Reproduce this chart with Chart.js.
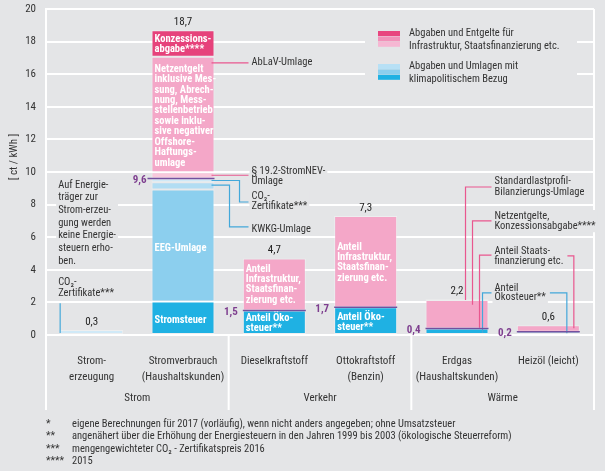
<!DOCTYPE html>
<html lang="de">
<head>
<meta charset="utf-8">
<title>Energiesteuern, Abgaben und Umlagen</title>
<script src="https://cdn.jsdelivr.net/npm/chart.js@4.4.1/dist/chart.umd.min.js"></script>
<style>
  html, body { margin: 0; padding: 0; background: #e4e5e7; }
  #chart { display: block; }
</style>
</head>
<body>
<canvas id="chart" width="605" height="471"></canvas>
<script>
const FONT = "'Liberation Sans Narrow', 'Arial Narrow', 'Roboto Condensed', Roboto, sans-serif";
const TEXT = '#333333';
const PURPLE = '#7e3f8f';
const BG = '#e4e5e7';
const PINK_LINE = '#e9578f';
const BLUE_LINE = '#43a8da';

// Kategorien und Gruppen der x-Achse
const categories = [['Strom-', 'erzeugung'], ['Stromverbrauch', '(Haushaltskunden)'], ['Dieselkraftstoff'],
    ['Ottokraftstoff', '(Benzin)'], ['Erdgas', '(Haushaltskunden)'], ['Heizöl (leicht)']];
const groups = ['Strom', 'Verkehr', 'Wärme'];
const Y_MAX = 20;
const Y_STEP = 2;

// Werte in ct/kWh, von unten nach oben gestapelt
const steuer = [null, 2.05, 1.5, 1.7, 0.4, 0.2];
const eegUmlage = [null, 6.88, null, null, null, null];
const kwkgUmlage = [null, 0.44, null, null, null, null];
const co2Zertifikate = [0.3, 0.23, null, null, null, null];
const stromNevUmlage = [null, 0.39, null, null, null, null];
const infrastruktur = [null, 7.08, 3.2, 5.6, 1.74, 0.4];
const konzession = [null, 1.63, null, null, 0.06, null];
const totals = [0.3, 18.7, 4.7, 7.3, 2.2, 0.6];
const klimaTotals = [null, 9.6, 1.5, 1.7, 0.4, 0.2];

const legendLabels = [['Abgaben und Entgelte für', 'Infrastruktur, Staatsfinanzierung etc.'],
    ['Abgaben und Umlagen mit', 'klimapolitischem Bezug']];
const legendColors = [['#e8457f', '#f291b9', '#f6b7d3'], ['#b7e0f5', '#8ccfee', '#1fb1e3']];

const footnotes = [
    ['*', 'eigene Berechnungen für 2017 (vorläufig), wenn nicht anders angegeben; ohne Umsatzsteuer'],
    ['**', 'angenähert über die Erhöhung der Energiesteuern in den Jahren 1999 bis 2003 (ökologische Steuerreform)'],
    ['***', 'mengengewichteter CO₂ - Zertifikatspreis 2016'],
    ['****', '2015']
];

function segment(label, data, color) {
    return {
        label: label,
        data: data,
        backgroundColor: color,
        borderColor: 'rgba(255,255,255,0.35)',
        borderWidth: 1,
        borderSkipped: false,
        barPercentage: 0.69,
        categoryPercentage: 1
    };
}

function fmt(v) {
    return v.toFixed(1).replace('.', ',');
}

function drawLines(ctx, lines, x, y, lh) {
    lines.forEach((t, k) => ctx.fillText(t, x, y + k * lh));
}

function blockWidth(ctx, lines) {
    return Math.max(...lines.map(t => ctx.measureText(t).width));
}

function polyline(ctx, pts, color) {
    ctx.strokeStyle = color;
    ctx.lineWidth = 1.2;
    ctx.beginPath();
    pts.forEach((p, k) => k ? ctx.lineTo(p[0], p[1]) : ctx.moveTo(p[0], p[1]));
    ctx.stroke();
}

const annotationPlugin = {
    id: 'annotations',
    afterDatasetsDraw(chart) {
        const ctx = chart.ctx;
        const area = chart.chartArea;
        const x = chart.scales.x;
        const y = chart.scales.y;
        const w = chart.getDatasetMeta(5).data[1].width;
        const bar = i => { const c = x.getPixelForValue(i); return { c: c, l: c - w / 2, r: c + w / 2 }; };
        const py = v => y.getPixelForValue(v);
        const e = bar(0), s = bar(1), g = bar(4), h = bar(5);

        ctx.save();
        ctx.textBaseline = 'middle';

        // Rahmen und Trennlinien im Achsenbereich
        const sepBottom = 410;
        ctx.strokeStyle = '#ffffff';
        ctx.lineWidth = 2;
        ctx.beginPath();
        ctx.moveTo(area.right, area.top); ctx.lineTo(area.right, sepBottom);
        ctx.moveTo(area.left, area.bottom); ctx.lineTo(area.left, sepBottom);
        [1, 3].forEach(i => {
            const sx = (x.getPixelForValue(i) + x.getPixelForValue(i + 1)) / 2;
            ctx.moveTo(sx, area.bottom); ctx.lineTo(sx, sepBottom);
        });
        ctx.stroke();

        // Gruppen unter den Kategorien
        ctx.fillStyle = TEXT;
        ctx.font = '11px ' + FONT;
        ctx.textAlign = 'center';
        groups.forEach((t, k) => {
            const cx = (x.getPixelForValue(2 * k) + x.getPixelForValue(2 * k + 1)) / 2;
            ctx.fillText(t, cx, 398);
        });

        // Achsentitel
        ctx.save();
        ctx.translate(14, 157);
        ctx.rotate(-Math.PI / 2);
        ctx.fillText('[ ct / kWh ]', 0, 0);
        ctx.restore();

        // Legende
        ctx.fillStyle = BG;
        ctx.fillRect(area.right - 229, 25, 212, 65);
        legendColors.forEach((cols, k) => {
            const top = 31 + k * 33;
            cols.forEach((c, j) => {
                ctx.fillStyle = c;
                ctx.fillRect(area.right - 216, top + j * 5.4, 22, 5);
            });
            ctx.fillStyle = TEXT;
            ctx.font = '10.5px ' + FONT;
            ctx.textAlign = 'left';
            drawLines(ctx, legendLabels[k], area.right - 185, top + 2, 13);
        });

        // Beschriftungen neben den Balken
        const blocks = [
            { lines: ['AbLaV-Umlage'], x: s.r + 37, y: py(16.7), lh: 10.5 },
            { lines: ['§ 19.2-StromNEV-', 'Umlage'], x: s.r + 37, y: py(10.06), lh: 10.5 },
            { lines: ['CO₂-', 'Zertifikate***'], x: s.r + 37, y: py(8.5), lh: 10 },
            { lines: ['KWKG-Umlage'], x: s.r + 37, y: py(6.5), lh: 10.5 },
            { lines: ['Auf Energie-', 'träger zur', 'Strom-erzeu-', 'gung werden', 'keine Energie-', 'steuern erho-', 'ben.'],
                x: e.l - 2, y: py(9.2), lh: 12.7 },
            { lines: ['CO₂-', 'Zertifikate***'], x: e.l - 2, y: py(3.2), lh: 10.5 },
            { lines: ['Standardlastprofil-', 'Bilanzierungs-Umlage'], x: g.r + 6, y: py(9.4), lh: 10.5 },
            { lines: ['Netzentgelte,', 'Konzessionsabgabe****'], x: g.r + 6, y: py(7.3), lh: 10.2 },
            { lines: ['Anteil Staats-', 'finanzierung etc.'], x: g.r + 6, y: py(5.15), lh: 10 },
            { lines: ['Anteil', 'Ökosteuer**'], x: g.r + 6, y: py(2.88), lh: 9.5 }
        ];
        ctx.font = '10.5px ' + FONT;
        blocks.forEach(b => {
            b.w = blockWidth(ctx, b.lines);
            ctx.fillStyle = BG;
            ctx.fillRect(b.x - 2, b.y - 6, b.w + 4, (b.lines.length - 1) * b.lh + 12);
        });

        // Verbindungslinien
        polyline(ctx, [[s.r - 3, py(16.7)], [s.r + 34, py(16.7)]], PINK_LINE);
        polyline(ctx, [[s.r - 3, py(9.8)], [s.r + 34, py(9.8)]], PINK_LINE);
        polyline(ctx, [[s.r - 3, py(9.48)], [s.r + 25, py(9.48)], [s.r + 25, py(8.16)], [s.r + 34, py(8.16)]], BLUE_LINE);
        polyline(ctx, [[s.r - 3, py(9.2)], [s.r + 15, py(9.2)], [s.r + 15, py(6.63)], [s.r + 34, py(6.63)]], BLUE_LINE);
        polyline(ctx, [[e.l, py(1.95)], [e.l, py(0.12)]], BLUE_LINE);
        polyline(ctx, [[g.r + 3, py(9.08)], [g.r - 23, py(9.08)], [g.r - 23, py(2.15)]], PINK_LINE);
        polyline(ctx, [[g.r + 3, py(7.0)], [g.r - 16, py(7.0)], [g.r - 16, py(1.85)]], PINK_LINE);
        polyline(ctx, [[g.r + 3, py(4.9)], [g.r - 9, py(4.9)], [g.r - 9, py(0.45)]], PINK_LINE);
        polyline(ctx, [[g.r + 3, py(2.58)], [g.r - 6, py(2.58)], [g.r - 6, py(0.12)]], BLUE_LINE);
        const staatsEnd = blocks[8].x + ctx.measureText(blocks[8].lines[1]).width;
        polyline(ctx, [[staatsEnd + 4, py(4.85)], [h.r - 6, py(4.85)], [h.r - 6, py(0.42)]], PINK_LINE);
        const oekoEnd = blocks[9].x + ctx.measureText(blocks[9].lines[1]).width;
        polyline(ctx, [[oekoEnd + 4, py(2.58)], [h.r - 13, py(2.58)], [h.r - 13, py(0.1)]], BLUE_LINE);

        ctx.fillStyle = TEXT;
        ctx.textAlign = 'left';
        blocks.forEach(b => drawLines(ctx, b.lines, b.x, b.y, b.lh));

        // Texte in den Balken
        const inner = [
            { i: 1, lines: ['Konzessions-', 'abgabe****'], v: 18.16, lh: 10.8 },
            { i: 1, lines: ['Netzentgelt', 'inklusive Mes-', 'sung, Abrech-', 'nung, Mess-', 'stellenbetrieb',
                'sowie inklu-', 'sive negativer', 'Offshore-', 'Haftungs-', 'umlage'], v: 16.32, lh: 10.45 },
            { i: 1, lines: ['EEG-Umlage'], v: 5.34, lh: 10 },
            { i: 1, lines: ['Stromsteuer'], v: 0.92, lh: 10 },
            { i: 2, lines: ['Anteil', 'Infrastruktur,', 'Staatsfinan-', 'zierung etc.'], v: 4.05, lh: 10.3 },
            { i: 2, lines: ['Anteil Öko-', 'steuer**'], v: 1.04, lh: 10 },
            { i: 3, lines: ['Anteil', 'Infrastruktur,', 'Staatsfinan-', 'zierung etc.'], v: 5.4, lh: 10.3 },
            { i: 3, lines: ['Anteil Öko-', 'steuer**'], v: 1.1, lh: 10 }
        ];
        ctx.fillStyle = '#ffffff';
        ctx.font = 'bold 10.5px ' + FONT;
        inner.forEach(t => drawLines(ctx, t.lines, bar(t.i).l + 3, py(t.v), t.lh));

        // Summen über den Balken
        ctx.fillStyle = '#222222';
        ctx.font = '11px ' + FONT;
        ctx.textAlign = 'center';
        totals.forEach((v, i) => ctx.fillText(fmt(v), bar(i).c, py(v) - 8));

        // Klimabezogener Anteil
        klimaTotals.forEach((v, i) => {
            if (v === null) return;
            const b = bar(i);
            ctx.strokeStyle = '#74509e';
            ctx.lineWidth = 1.5;
            ctx.beginPath();
            ctx.moveTo(b.l - (i === 1 ? 4 : 0), py(v));
            ctx.lineTo(b.r, py(v));
            ctx.stroke();
            ctx.fillStyle = PURPLE;
            ctx.font = 'bold 11px ' + FONT;
            ctx.textAlign = 'right';
            ctx.fillText(fmt(v), b.l - 5, py(v) + 1.5);
        });

        // Fußnoten
        ctx.fillStyle = TEXT;
        ctx.font = '10.5px ' + FONT;
        ctx.textAlign = 'left';
        footnotes.forEach((f, k) => {
            ctx.fillText(f[0], 46, 424 + k * 12.5);
            ctx.fillText(f[1], 72, 424 + k * 12.5);
        });

        ctx.restore();
    }
};

document.addEventListener('DOMContentLoaded', function () {
    const ctx = document.getElementById('chart').getContext('2d');
    new Chart(ctx, {
        type: 'bar',
        data: {
            labels: categories,
            datasets: [
                segment('Stromsteuer / Ökosteuer', steuer, '#1fb1e3'),
                segment('EEG-Umlage', eegUmlage, '#8ccfee'),
                segment('KWKG-Umlage', kwkgUmlage, '#b2ddf3'),
                segment('CO2-Zertifikate', co2Zertifikate, '#d0e9f7'),
                segment('§ 19.2-StromNEV-Umlage', stromNevUmlage, '#f8c8dc'),
                segment('Netzentgelte / Infrastruktur', infrastruktur, '#f4a7c8'),
                segment('Konzessionsabgabe', konzession, '#e6427b')
            ]
        },
        options: {
            responsive: false,
            animation: false,
            devicePixelRatio: 1,
            layout: { padding: { top: 9, right: 11, left: 0, bottom: 0 } },
            plugins: {
                legend: { display: false },
                tooltip: { enabled: false }
            },
            scales: {
                x: {
                    stacked: true,
                    grid: { display: false },
                    border: { display: false },
                    ticks: {
                        color: TEXT,
                        font: { family: FONT, size: 11, lineHeight: 1.45 },
                        padding: 10,
                        maxRotation: 0,
                        autoSkip: false
                    },
                    afterFit: function (scale) { scale.height = 136; }
                },
                y: {
                    stacked: true,
                    min: 0,
                    max: Y_MAX,
                    ticks: {
                        stepSize: Y_STEP,
                        color: TEXT,
                        font: { family: FONT, size: 11 },
                        padding: 10
                    },
                    grid: { color: '#ffffff', lineWidth: 2, drawTicks: false },
                    border: { color: '#ffffff', width: 2 },
                    afterFit: function (scale) {
                        // Tick-Abstand nicht als Rand oben/unten zählen
                        scale.width = 46;
                        scale.paddingTop = 0;
                        scale.paddingBottom = 0;
                    }
                }
            }
        },
        plugins: [annotationPlugin]
    });
});
</script>
</body>
</html>
